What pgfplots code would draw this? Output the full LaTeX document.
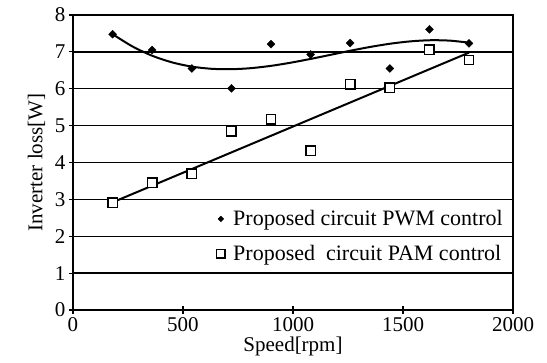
\documentclass[border=0pt]{standalone}
\usepackage{fontspec}
\setmainfont{Liberation Serif}
\usepackage{pgfplots}
\pgfplotsset{compat=1.18}
\begin{document}
\begin{tikzpicture}
\begin{axis}[
  scale only axis, width=440pt, height=295pt,
  xmin=0, xmax=2000, ymin=0, ymax=8,
  xtick={0,500,1000,1500,2000}, ytick={0,1,2,3,4,5,6,7,8},
  ymajorgrids, major grid style={black, line width=1.4pt},
  axis line style={line width=1.6pt},
  tick style={black, line width=1.2pt}, tick align=center, major tick length=8pt,
  tick pos=left,
  /pgf/number format/assume math mode=true,
  /pgf/number format/set thousands separator={},
  tick label style={font=\fontsize{21}{24}\selectfont},
  label style={font=\fontsize{21}{24}\selectfont},
  xlabel={Speed[rpm]}, ylabel={Inverter loss[W]},
  xlabel style={yshift=2pt}, ylabel style={yshift=3pt},
  legend style={draw=none, fill=none, at={(0.326,0.338)}, anchor=north west,
    font=\fontsize{22}{24}\selectfont, row sep=18pt, inner sep=0pt,
    nodes={inner xsep=3pt, inner ysep=0pt}},
  legend cell align=left,
  legend image code/.code={\draw[mark repeat=2,mark phase=2,#1] plot coordinates {(0pt,0pt)(6pt,0pt)(12pt,0pt)};},
]
% trend lines
\addplot[forget plot, black, line width=2pt, smooth] coordinates {
(180,7.48)(270,7.148)(360,6.895)(450,6.716)(540,6.60)(630,6.541)(720,6.530)
(810,6.559)(900,6.621)(990,6.707)(1080,6.809)(1170,6.919)(1260,7.03)
(1350,7.133)(1440,7.220)(1530,7.283)(1620,7.315)(1710,7.306)(1800,7.25)};
\addplot[forget plot, black, line width=2pt] coordinates {(180,2.92)(1800,6.98)};
% data
\addplot[forget plot, only marks, mark=square*, mark size=2.8pt, mark options={rotate=45, fill=black, draw=black}] coordinates {
(180,7.48)(360,7.05)(540,6.55)(720,6.01)(900,7.21)(1080,6.93)(1260,7.24)(1440,6.55)(1620,7.61)(1800,7.23)};
\addplot[forget plot, only marks, mark=square*, mark size=4.7pt, mark options={fill=white, draw=black, line width=1.5pt}] coordinates {
(180,2.91)(360,3.45)(540,3.70)(720,4.85)(900,5.17)(1080,4.32)(1260,6.12)(1440,6.03)(1620,7.06)(1800,6.78)};
\addlegendimage{only marks, mark=square*, mark size=2.0pt, mark options={rotate=45, fill=black, draw=black}}
\addlegendentry{\hspace*{5pt}Proposed circuit PWM control}
\addlegendimage{only marks, mark=square*, mark size=4.3pt, mark options={fill=white, draw=black, line width=1.5pt}}
\addlegendentry{\hspace*{5pt}Proposed\ \ circuit PAM control}
\end{axis}
\path[use as bounding box] ([shift={(-73pt,-53pt)}]current axis.south west) rectangle ([shift={(34pt,15pt)}]current axis.north east);
\end{tikzpicture}
\end{document}
